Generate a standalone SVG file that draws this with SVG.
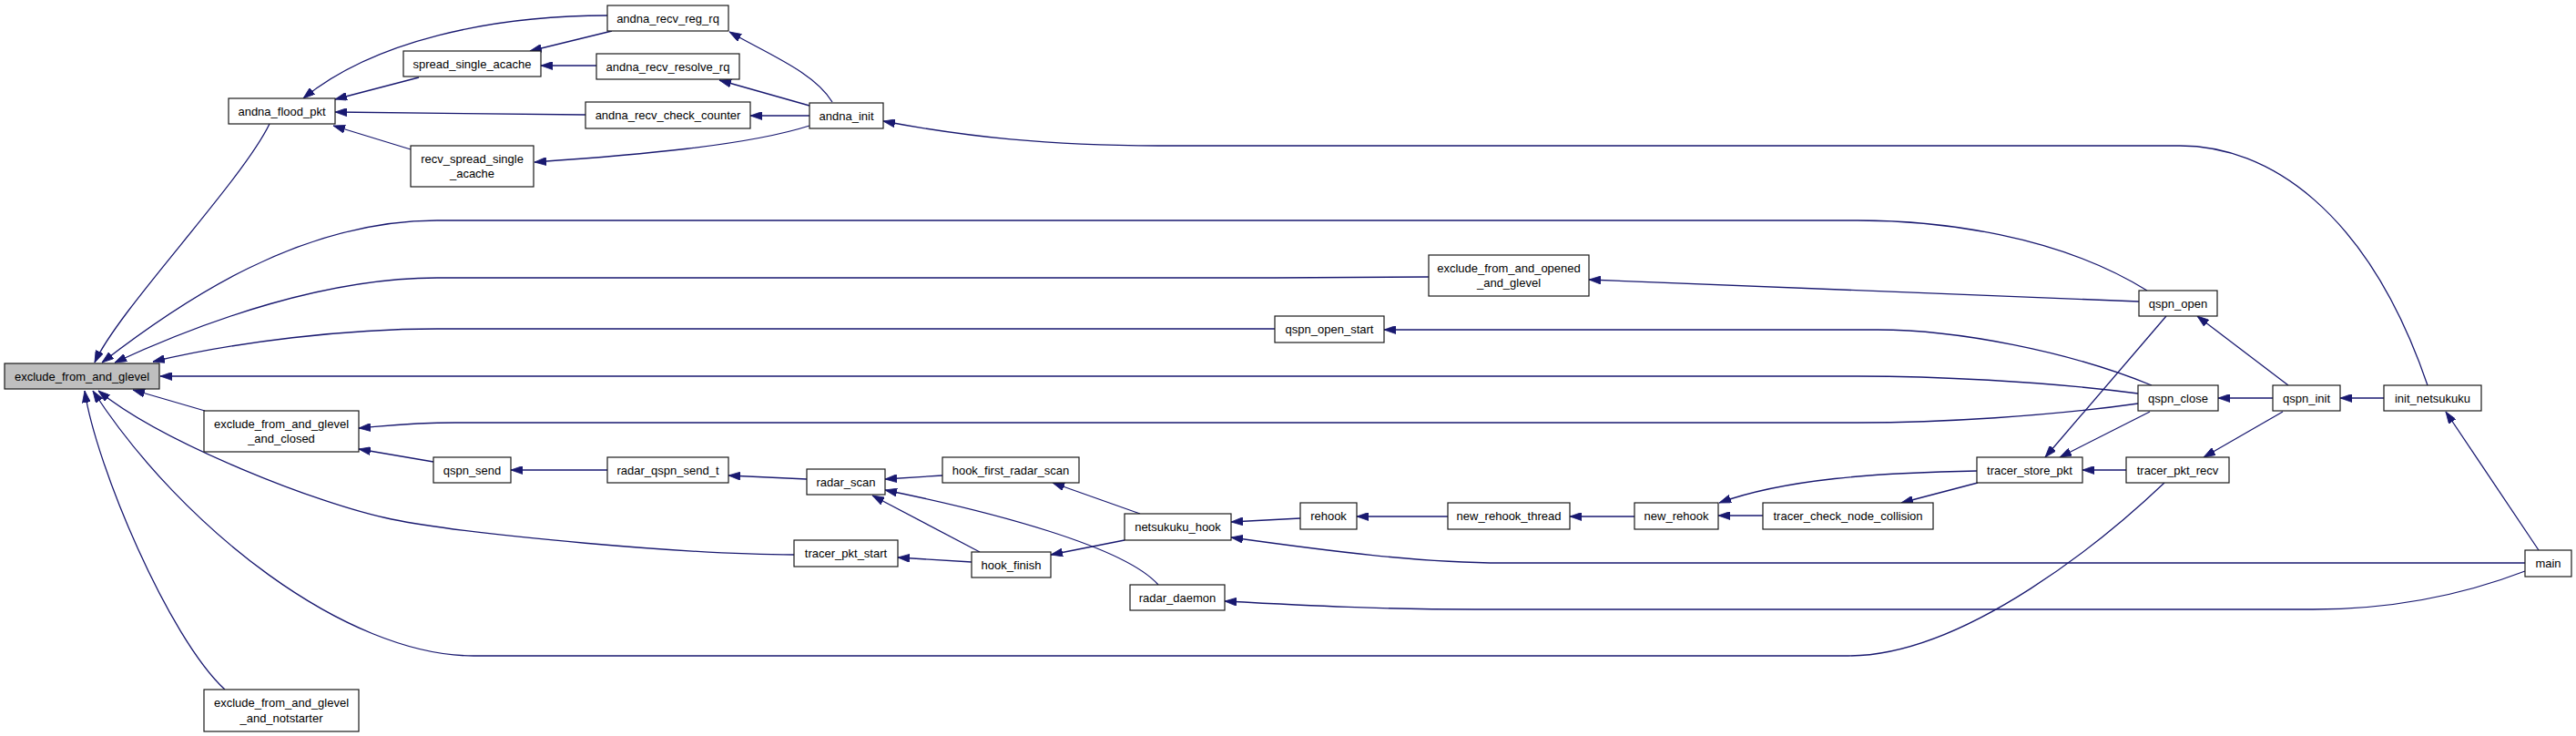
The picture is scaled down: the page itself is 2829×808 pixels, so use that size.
<svg xmlns="http://www.w3.org/2000/svg" width="2829" height="808" viewBox="0 0 2829 808">
<style>
.n rect{fill:#fff;stroke:#1a1a1a;stroke-width:1.2}
.n.root rect{fill:#bfbfbf}
.n text{font-family:"Liberation Sans",Arial,Helvetica,sans-serif;font-size:13px;fill:#000;text-anchor:middle}
.e path{fill:none;stroke:#191970;stroke-width:1.3;marker-end:url(#ah)}
</style>
<defs>
<marker id="ah" viewBox="0 0 13 9" refX="13" refY="4.5" markerWidth="13" markerHeight="9" markerUnits="userSpaceOnUse" orient="auto">
<path d="M0,0 L13,4.5 L0,9 z" fill="#191970" stroke="#191970" stroke-width="0.8"/>
</marker>
</defs>
<rect width="2829" height="808" fill="#fff"/>
<g id="edges" class="e">
<path d="M296,136 C265,200 130,340 104,398"/>
<path d="M2358,319 C2260,258 2130,242 2040,242 L480,242 C330,242 200,330 112,398"/>
<path d="M1569,304 L1400,305 L480,305 C360,305 230,350 126,398"/>
<path d="M1400,361 L480,361 C380,361 260,375 168,397"/>
<path d="M2348,432 C2240,418 2120,413 2040,413 L176,413"/>
<path d="M225,451 L146,428"/>
<path d="M872,609 C760,609 520,588 430,570 C350,554 178,486 108,429"/>
<path d="M2377,530 C2317,587 2160,720 2030,720 L520,720 C380,720 200,580 102,429"/>
<path d="M247,757 C185,700 105,510 93,429"/>
<path d="M667,17 C540,17 410,45 333,108"/>
<path d="M460,85 L368,109"/>
<path d="M643,126 L368,123"/>
<path d="M451,164 L366,138"/>
<path d="M672,34 L582,56"/>
<path d="M655,72 L594,72"/>
<path d="M914,112 C895,80 845,60 801,35"/>
<path d="M889,116 L790,88"/>
<path d="M889,127 L824,127"/>
<path d="M889,138 C820,160 700,170 587,178"/>
<path d="M2666,423 C2600,230 2490,160 2394,160 L1280,160 C1150,160 1060,150 970,133"/>
<path d="M2349,331 L1745,307"/>
<path d="M2363,423 C2273,386 2150,362 2062,362 L1520,362"/>
<path d="M2348,443 C2250,457 2130,464 2040,464 L500,464 C450,464 420,468 394,470"/>
<path d="M476,507 L394,493"/>
<path d="M667,516 L561,516"/>
<path d="M886,526 L800,522"/>
<path d="M1035,522 L972,526"/>
<path d="M1076,606 L958,544"/>
<path d="M1272,642 C1235,600 1090,562 972,538"/>
<path d="M1252,564 L1156,530"/>
<path d="M1235,593 L1154,609"/>
<path d="M1067,617 L986,612"/>
<path d="M1428,569 L1352,573"/>
<path d="M1590,567 L1490,567"/>
<path d="M1795,567 L1724,567"/>
<path d="M2773,618 L1650,618 C1560,618 1460,605 1352,590"/>
<path d="M2773,627 C2700,655 2620,669 2540,669 L1620,669 C1520,669 1440,665 1345,660"/>
<path d="M2171,517 C2060,519 1960,526 1888,552"/>
<path d="M2172,530 L2088,552"/>
<path d="M1936,566 L1887,566"/>
<path d="M2335,516 L2287,516"/>
<path d="M2379,347 L2246,502"/>
<path d="M2361,452 L2262,502"/>
<path d="M2507,452 L2420,502"/>
<path d="M2496,437 L2436,437"/>
<path d="M2513,423 L2413,347"/>
<path d="M2618,437 L2570,437"/>
<path d="M2788,604 L2686,452"/>
</g>
<g id="n1" class="n root"><rect x="5" y="399" width="170" height="28"/><text x="90" y="417.5">exclude_from_and_glevel</text></g>
<g id="n2" class="n"><rect x="251" y="108" width="117" height="28"/><text x="309.5" y="126.5">andna_flood_pkt</text></g>
<g id="n3" class="n"><rect x="443" y="56" width="151" height="28"/><text x="518.5" y="74.5">spread_single_acache</text></g>
<g id="n4" class="n"><rect x="667" y="6" width="133" height="28"/><text x="733.5" y="24.5">andna_recv_reg_rq</text></g>
<g id="n5" class="n"><rect x="655" y="59" width="157" height="28"/><text x="733.5" y="77.5">andna_recv_resolve_rq</text></g>
<g id="n6" class="n"><rect x="643" y="112" width="181" height="29"/><text x="733.5" y="131">andna_recv_check_counter</text></g>
<g id="n7" class="n"><rect x="451" y="160" width="135" height="45"/><text x="518.5" y="178.7">recv_spread_single</text><text x="518.5" y="195.3">_acache</text></g>
<g id="n8" class="n"><rect x="889" y="113" width="81" height="28"/><text x="929.5" y="131.5">andna_init</text></g>
<g id="n9" class="n"><rect x="1569" y="280" width="176" height="45"/><text x="1657" y="298.7">exclude_from_and_opened</text><text x="1657" y="315.3">_and_glevel</text></g>
<g id="n10" class="n"><rect x="1400" y="347" width="120" height="29"/><text x="1460" y="366">qspn_open_start</text></g>
<g id="n11" class="n"><rect x="2349" y="319" width="86" height="28"/><text x="2392" y="337.5">qspn_open</text></g>
<g id="n12" class="n"><rect x="2348" y="423" width="88" height="28"/><text x="2392" y="441.5">qspn_close</text></g>
<g id="n13" class="n"><rect x="2496" y="423" width="74" height="28"/><text x="2533" y="441.5">qspn_init</text></g>
<g id="n14" class="n"><rect x="2618" y="423" width="107" height="28"/><text x="2671.5" y="441.5">init_netsukuku</text></g>
<g id="n15" class="n"><rect x="2773" y="604" width="51" height="29"/><text x="2798.5" y="623">main</text></g>
<g id="n16" class="n"><rect x="224" y="451" width="170" height="45"/><text x="309" y="469.7">exclude_from_and_glevel</text><text x="309" y="486.3">_and_closed</text></g>
<g id="n17" class="n"><rect x="476" y="502" width="85" height="28"/><text x="518.5" y="520.5">qspn_send</text></g>
<g id="n18" class="n"><rect x="667" y="502" width="133" height="28"/><text x="733.5" y="520.5">radar_qspn_send_t</text></g>
<g id="n19" class="n"><rect x="886" y="515" width="86" height="28"/><text x="929" y="533.5">radar_scan</text></g>
<g id="n20" class="n"><rect x="1035" y="502" width="150" height="28"/><text x="1110" y="520.5">hook_first_radar_scan</text></g>
<g id="n21" class="n"><rect x="872" y="593" width="114" height="29"/><text x="929" y="612">tracer_pkt_start</text></g>
<g id="n22" class="n"><rect x="1067" y="606" width="87" height="28"/><text x="1110.5" y="624.5">hook_finish</text></g>
<g id="n23" class="n"><rect x="1235" y="564" width="117" height="29"/><text x="1293.5" y="583">netsukuku_hook</text></g>
<g id="n24" class="n"><rect x="1241" y="642" width="104" height="28"/><text x="1293" y="660.5">radar_daemon</text></g>
<g id="n25" class="n"><rect x="1428" y="552" width="62" height="29"/><text x="1459" y="571">rehook</text></g>
<g id="n26" class="n"><rect x="1590" y="552" width="134" height="29"/><text x="1657" y="571">new_rehook_thread</text></g>
<g id="n27" class="n"><rect x="1795" y="552" width="92" height="29"/><text x="1841" y="571">new_rehook</text></g>
<g id="n28" class="n"><rect x="1936" y="552" width="187" height="29"/><text x="2029.5" y="571">tracer_check_node_collision</text></g>
<g id="n29" class="n"><rect x="2171" y="502" width="116" height="28"/><text x="2229" y="520.5">tracer_store_pkt</text></g>
<g id="n30" class="n"><rect x="2335" y="502" width="113" height="28"/><text x="2391.5" y="520.5">tracer_pkt_recv</text></g>
<g id="n31" class="n"><rect x="224" y="757" width="170" height="46"/><text x="309" y="776.2">exclude_from_and_glevel</text><text x="309" y="792.8">_and_notstarter</text></g>
</svg>
